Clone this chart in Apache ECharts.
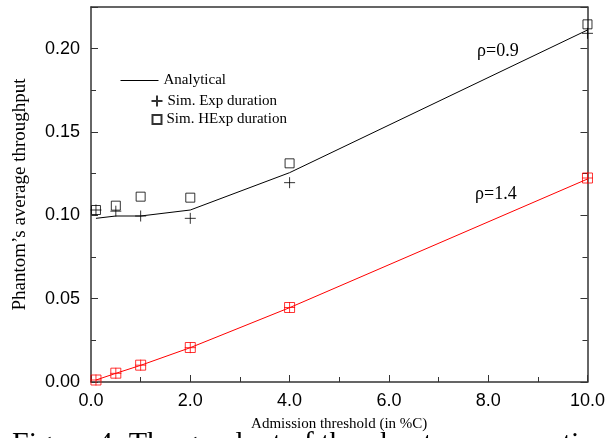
<!DOCTYPE html>
<html>
<head>
<meta charset="UTF-8">
<title>Phantom's average throughput</title>
<script src="https://cdn.jsdelivr.net/npm/echarts@6/dist/echarts.min.js"></script>
<style>
    html, body { margin: 0; padding: 0; background: #fff; }
    #chart { width: 608px; height: 438px; }
</style>
</head>
<body>
<div id="chart"></div>
<script>
// admission threshold (in %C)
var thresholds = [0.1, 0.5, 1, 2, 4, 10];

// rho = 0.9 (black)
var analytic09 = [0.0982, 0.0996, 0.0996, 0.1032, 0.1256, 0.2112];
var simExp09   = [0.1032, 0.1025, 0.0996, 0.0982, 0.1196, 0.2092];
var simHexp09  = [0.1032, 0.1058, 0.1112, 0.1106, 0.1312, 0.2146];

// rho = 1.4 (red)
var analytic14 = [0.0012, 0.0052, 0.0100, 0.0206, 0.0446, 0.1218];
var simExp14   = [0.0012, 0.0052, 0.0101, 0.0206, 0.0447, 0.1224];
var simHexp14  = [0.0012, 0.0053, 0.0101, 0.0207, 0.0447, 0.1224];

var rhoLabels = ['ρ=0.9', 'ρ=1.4'];

var serif = 'Liberation Serif';
var sans = 'Liberation Sans';
var axisColor = '#333';
var plusPath = 'path://M0,-1L0,1M-1,0L1,0';

function pairs(vals) {
    return thresholds.map(function (x, i) { return [x, vals[i]]; });
}

var chart = echarts.init(document.getElementById('chart'));

var legendText = { fontFamily: serif, fontSize: 15, color: '#000' };

var option = {
    backgroundColor: '#fff',
    animation: false,
    grid: { left: 91, right: 18, top: 7, bottom: 56 },
    legend: [
        { data: ['Analytical'], left: 120, top: 73, padding: 0, itemWidth: 38, itemHeight: 12,
          itemStyle: { opacity: 0 }, lineStyle: { width: 1 },
          selectedMode: false, textStyle: legendText },
        { data: ['Sim. Exp duration'], left: 149, top: 93, padding: 0, itemWidth: 11, itemHeight: 11,
          selectedMode: false, textStyle: legendText },
        { data: ['Sim. HExp duration'], left: 150, top: 112, padding: 0, itemWidth: 9, itemHeight: 9,
          selectedMode: false, textStyle: legendText }
    ],
    xAxis: [
        {
            type: 'value', min: 0, max: 10, interval: 2,
            name: 'Admission threshold (in %C)', nameLocation: 'middle', nameGap: 35,
            nameTextStyle: { fontFamily: serif, fontSize: 15, color: '#000' },
            axisLine: { lineStyle: { color: axisColor, width: 1.5 } },
            axisTick: { inside: true, length: 7, lineStyle: { color: axisColor } },
            minorTick: { show: true, splitNumber: 2, length: 5, lineStyle: { color: axisColor } },
            axisLabel: { fontFamily: sans, fontSize: 18, color: '#000', margin: 10,
                formatter: function (v) { return v.toFixed(1); } },
            splitLine: { show: false }
        },
        {
            type: 'value', min: 0, max: 10, position: 'top',
            axisLine: { show: true, onZero: false, lineStyle: { color: axisColor, width: 1.5 } },
            axisTick: { show: false }, axisLabel: { show: false }, splitLine: { show: false }
        }
    ],
    yAxis: [
        {
            type: 'value', min: 0, max: 0.225, interval: 0.05,
            name: 'Phantom’s average throughput', nameLocation: 'middle', nameGap: 61,
            nameTextStyle: { fontFamily: serif, fontSize: 19, color: '#000' },
            axisLine: { show: true, lineStyle: { color: axisColor, width: 1.5 } },
            axisTick: { inside: true, length: 7, lineStyle: { color: axisColor } },
            minorTick: { show: true, splitNumber: 2, length: 5, lineStyle: { color: axisColor } },
            axisLabel: { fontFamily: sans, fontSize: 18, color: '#000', margin: 11,
                showMaxLabel: false,
                formatter: function (v) { return v.toFixed(2); } },
            splitLine: { show: false }
        },
        {
            type: 'value', min: 0, max: 0.225, interval: 0.05, position: 'right',
            axisLine: { show: true, onZero: false, lineStyle: { color: axisColor, width: 1.5 } },
            axisTick: { inside: true, length: 7, lineStyle: { color: axisColor } },
            minorTick: { show: true, splitNumber: 2, length: 5, lineStyle: { color: axisColor } },
            axisLabel: { show: false }, splitLine: { show: false }
        }
    ],
    graphic: [
        { type: 'text', left: 477, top: 42, style: { text: rhoLabels[0], font: '18px ' + serif, fill: '#000' } },
        { type: 'text', left: 475, top: 185, style: { text: rhoLabels[1], font: '18px ' + serif, fill: '#000' } },
        { type: 'text', left: 12, top: 429,
          style: { text: 'Figure 4: The goodput of the phantom connection', font: '30px ' + serif, fill: '#000' } }
    ],
    series: [
        { name: 'Analytical', type: 'line', data: pairs(analytic09), symbol: 'none',
          lineStyle: { color: '#000', width: 1 }, itemStyle: { color: '#000' }, z: 2 },
        { name: 'Sim. Exp duration', type: 'scatter', data: pairs(simExp09),
          symbol: plusPath, symbolSize: 11,
          itemStyle: { color: 'none', borderColor: '#000', borderWidth: 1 }, z: 3 },
        { name: 'Sim. HExp duration', type: 'scatter', data: pairs(simHexp09),
          symbol: 'rect', symbolSize: 9,
          itemStyle: { color: 'none', borderColor: '#000', borderWidth: 1 }, z: 3 },
        { name: 'Analytical 1.4', type: 'line', data: pairs(analytic14), symbol: 'none',
          lineStyle: { color: '#f00', width: 1 }, z: 2 },
        { name: 'Sim. Exp duration 1.4', type: 'scatter', data: pairs(simExp14),
          symbol: plusPath, symbolSize: 11,
          itemStyle: { color: 'none', borderColor: '#f00', borderWidth: 1 }, z: 3 },
        { name: 'Sim. HExp duration 1.4', type: 'scatter', data: pairs(simHexp14),
          symbol: 'rect', symbolSize: 10,
          itemStyle: { color: 'none', borderColor: '#f00', borderWidth: 1 }, z: 3 }
    ]
};

chart.setOption(option);
</script>
</body>
</html>
